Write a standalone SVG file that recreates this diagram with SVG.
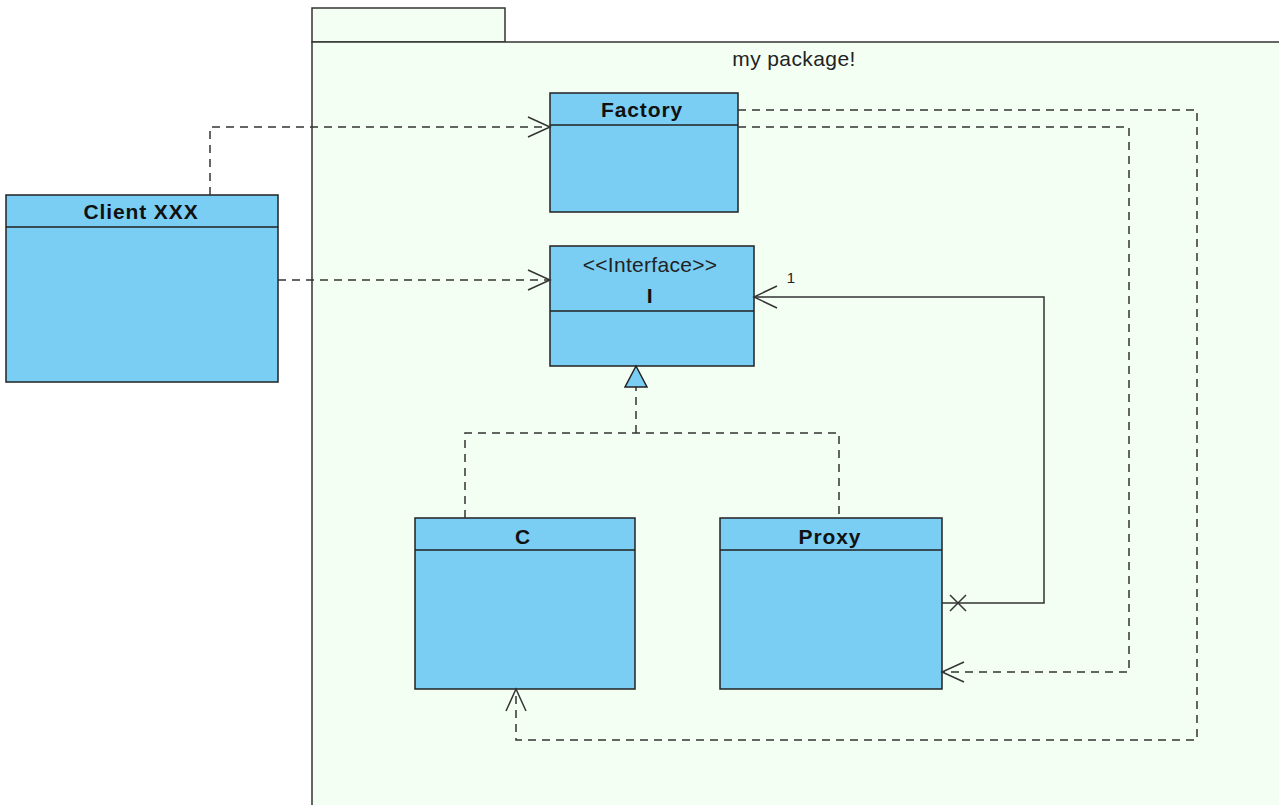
<svg xmlns="http://www.w3.org/2000/svg" width="1279" height="805" viewBox="0 0 1279 805">
<style>
.pkg{fill:#f4fff4;stroke:#333;stroke-width:1.5}
.box{fill:#7acef4;stroke:#222;stroke-width:1.5}
.div{stroke:#222;stroke-width:1.5}
.title{font-family:"Liberation Sans",Arial,sans-serif;font-weight:bold;font-size:21px;fill:#111;text-anchor:middle;letter-spacing:0.9px}
.txt{font-family:"Liberation Sans",Arial,sans-serif;font-size:21px;fill:#222;text-anchor:middle}
.dash{fill:none;stroke:#333;stroke-width:1.5;stroke-dasharray:8,6}
.solid{fill:none;stroke:#333;stroke-width:1.5}
.head{fill:none;stroke:#333;stroke-width:1.5}
</style>
<rect width="1279" height="805" fill="#ffffff"/>
<g id="package">
  <rect class="pkg" x="312" y="8" width="193" height="34"/>
  <rect class="pkg" x="312" y="42" width="980" height="780"/>
  <text class="txt" x="794" y="66" font-size="22" letter-spacing="0.4">my package!</text>
</g>
<g id="Client">
  <rect class="box" x="6" y="195" width="272" height="187"/>
  <line class="div" x1="6" y1="227" x2="278" y2="227"/>
  <text class="title" x="141" y="219">Client XXX</text>
</g>
<g id="Factory">
  <rect class="box" x="550" y="93" width="188" height="119"/>
  <line class="div" x1="550" y1="125" x2="738" y2="125"/>
  <text class="title" x="642" y="117">Factory</text>
</g>
<g id="I">
  <rect class="box" x="550" y="246" width="204" height="120"/>
  <line class="div" x1="550" y1="311" x2="754" y2="311"/>
  <text class="txt" x="650" y="272" letter-spacing="0.3">&lt;&lt;Interface&gt;&gt;</text>
  <text class="title" x="650" y="303">I</text>
</g>
<g id="C">
  <rect class="box" x="415" y="518" width="220" height="171"/>
  <line class="div" x1="415" y1="550" x2="635" y2="550"/>
  <text class="title" x="523" y="544">C</text>
</g>
<g id="Proxy">
  <rect class="box" x="720" y="518" width="222" height="171"/>
  <line class="div" x1="720" y1="550" x2="942" y2="550"/>
  <text class="title" x="830" y="544">Proxy</text>
</g>
<g id="connectors">
  <polyline class="dash" points="210,195 210,127 550,127"/>
  <polyline class="head" points="528,117 550,127 528,137"/>
  <polyline class="dash" points="278,280 550,280"/>
  <polyline class="head" points="528,270 550,280 528,290"/>
  <polyline class="dash" points="465,518 465,433 839,433 839,518"/>
  <line class="dash" x1="636" y1="433" x2="636" y2="387"/>
  <polygon points="636,366 625,387 647,387" fill="#7acef4" stroke="#222" stroke-width="1.5"/>
  <polyline class="solid" points="942,603 1044,603 1044,297 754,297"/>
  <polyline class="head" points="777,286 754,297 777,308"/>
  <path class="solid" d="M950,595 L966,611 M950,611 L966,595"/>
  <text x="791" y="283" font-family="Liberation Sans,Arial,sans-serif" font-size="15" fill="#222" text-anchor="middle">1</text>
  <polyline class="dash" points="738,127 1129,127 1129,672 942,672"/>
  <polyline class="head" points="964,662 942,672 964,682"/>
  <polyline class="dash" points="738,110 1197,110 1197,740 516,740 516,689"/>
  <polyline class="head" points="506,711 516,689 526,711"/>
</g>
</svg>
